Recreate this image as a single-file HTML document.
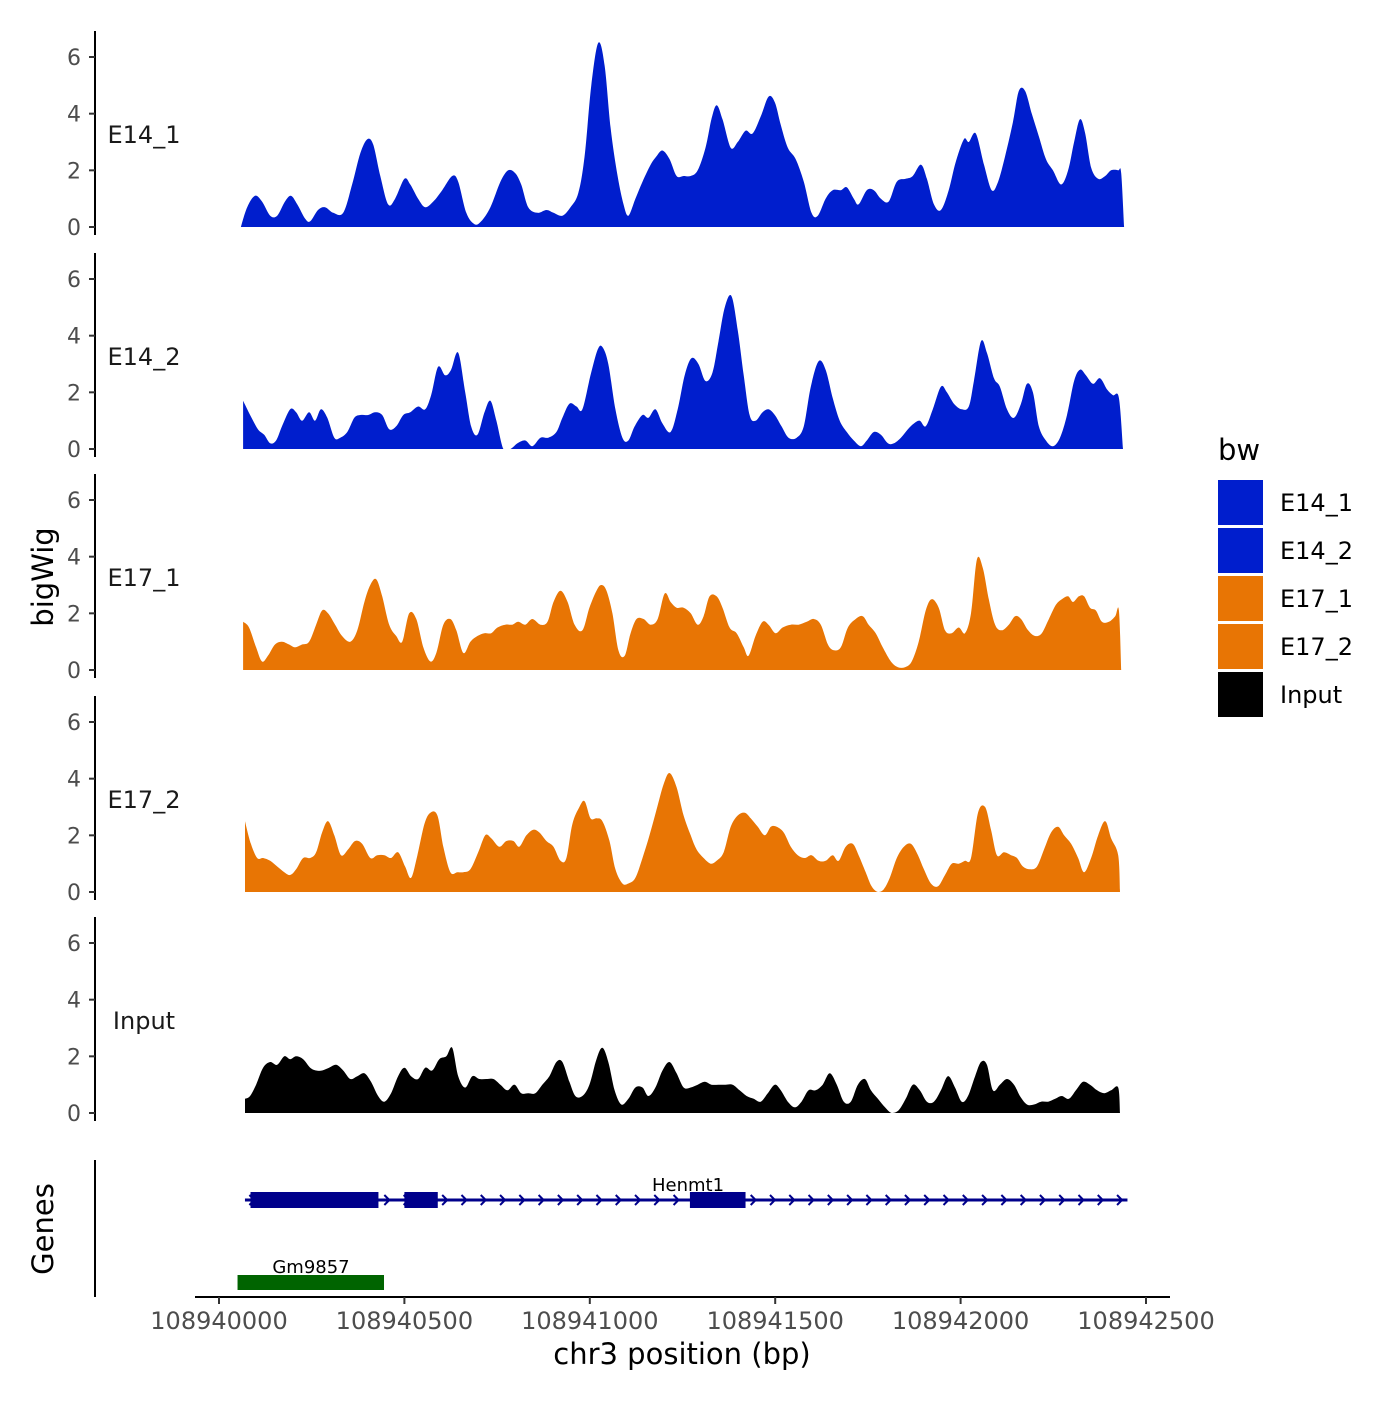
<!DOCTYPE html>
<html><head><meta charset="utf-8"><style>
body{margin:0;background:#fff}
svg text{font-family:"DejaVu Sans","Liberation Sans",sans-serif}
</style></head><body>
<svg id="chart" width="1400" height="1400" viewBox="0 0 1400 1400" xmlns="http://www.w3.org/2000/svg">
<rect width="1400" height="1400" fill="#fff"/>
<g id="tracks"></g>
<g id="genes"></g>
<g id="xaxis"></g>
<text x="53" y="577" font-size="29" text-anchor="middle" transform="rotate(-90 53 577)">bigWig</text>
<text x="53" y="1229" font-size="29" text-anchor="middle" transform="rotate(-90 53 1229)">Genes</text>
<text x="682" y="1364" font-size="29" text-anchor="middle">chr3 position (bp)</text>
<g id="legend"></g>
</svg>
<script>
const START = 108940000;
const xTicks = [108940000,108940500,108941000,108941500,108942000,108942500];
const yTicks = [0,2,4,6];
const trackNames = ["E14_1","E14_2","E17_1","E17_2","Input"];
const trackColors = ["#001ECD","#001ECD","#E87504","#E87504","#000000"];

// positions are bp offsets from 108940000
const e14_1_pos = [59,76,97,116,138,157,178,194,211,232,246,267,286,308,335,359,381,400,416,435,456,475,500,516,537,556,578,602,629,645,667,689,707,732,759,780,799,815,834,859,883,902,926,948,969,986,1004,1023,1040,1056,1075,1091,1104,1123,1142,1164,1180,1196,1215,1234,1253,1272,1291,1312,1328,1342,1358,1380,1399,1420,1439,1461,1482,1499,1515,1534,1555,1577,1598,1615,1636,1655,1677,1693,1712,1725,1747,1766,1785,1806,1828,1852,1871,1893,1909,1928,1947,1968,1987,2009,2022,2041,2063,2084,2101,2120,2141,2157,2174,2192,2211,2230,2249,2271,2290,2306,2322,2336,2352,2371,2390,2406,2425,2433,2441];
const e14_1_val = [0,0.7,1.1,0.9,0.4,0.4,0.9,1.1,0.8,0.3,0.2,0.6,0.7,0.5,0.5,1.5,2.6,3.1,2.9,1.8,0.8,1.0,1.7,1.5,1.0,0.7,0.9,1.3,1.8,1.6,0.5,0.1,0.2,0.7,1.6,2.0,1.9,1.5,0.7,0.5,0.6,0.5,0.4,0.7,1.2,2.5,5.0,6.5,5.7,3.5,1.8,0.8,0.4,1.0,1.6,2.2,2.5,2.7,2.4,1.8,1.8,1.8,2.0,2.8,3.8,4.3,3.8,2.8,3.0,3.4,3.3,3.9,4.6,4.4,3.6,2.8,2.4,1.6,0.5,0.4,1.0,1.3,1.3,1.4,1.0,0.8,1.3,1.3,1.0,0.9,1.6,1.7,1.8,2.2,1.7,0.8,0.6,1.3,2.3,3.1,3.0,3.3,2.2,1.3,1.6,2.5,3.7,4.8,4.8,4.0,3.2,2.4,2.0,1.5,2.0,3.0,3.8,3.3,2.1,1.7,1.8,2.0,2.0,1.9,0];

const e14_2_pos = [65,84,105,122,138,154,170,192,208,224,243,259,275,292,311,327,346,365,381,402,421,440,459,478,497,516,537,556,572,591,610,626,645,664,680,697,716,732,748,767,786,805,826,845,867,888,910,926,945,964,980,1002,1021,1034,1050,1069,1088,1104,1121,1142,1158,1177,1196,1218,1237,1256,1274,1293,1312,1331,1347,1364,1382,1399,1415,1431,1447,1466,1482,1499,1517,1536,1558,1577,1596,1617,1636,1655,1674,1693,1712,1731,1747,1766,1785,1804,1820,1839,1858,1874,1890,1906,1925,1947,1963,1982,2003,2022,2036,2055,2071,2090,2106,2125,2144,2163,2179,2195,2211,2230,2249,2268,2287,2306,2322,2338,2357,2376,2395,2411,2427,2438];
const e14_2_val = [1.7,1.2,0.7,0.5,0.2,0.3,0.8,1.4,1.3,1.0,1.3,1.0,1.4,1.1,0.4,0.4,0.6,1.1,1.2,1.2,1.3,1.2,0.7,0.8,1.2,1.3,1.5,1.4,1.9,2.9,2.6,2.8,3.4,2.0,0.8,0.5,1.3,1.7,1.0,0,0,0.2,0.3,0.1,0.4,0.4,0.6,1.1,1.6,1.5,1.4,2.6,3.5,3.6,3.0,1.4,0.4,0.3,0.8,1.2,1.1,1.4,0.9,0.6,1.4,2.6,3.2,3.0,2.4,2.7,3.8,5.0,5.4,4.2,2.6,1.2,1.0,1.3,1.4,1.2,0.8,0.4,0.4,0.8,2.2,3.1,2.8,1.8,1.0,0.6,0.3,0.1,0.3,0.6,0.5,0.2,0.2,0.4,0.7,0.9,1.0,0.8,1.4,2.2,2.0,1.6,1.4,1.5,2.4,3.8,3.4,2.5,2.2,1.4,1.1,1.6,2.3,2.0,0.8,0.3,0.1,0.4,1.2,2.4,2.8,2.6,2.3,2.5,2.1,1.9,1.8,0];

const e17_1_pos = [65,81,100,116,132,151,170,189,205,224,243,262,278,294,313,332,354,373,392,408,424,440,459,478,494,513,532,551,570,586,605,624,640,659,678,697,716,734,751,772,791,807,826,845,867,886,902,921,940,959,980,999,1018,1031,1045,1061,1077,1094,1110,1126,1145,1164,1183,1202,1218,1234,1253,1272,1291,1307,1323,1342,1358,1377,1396,1415,1428,1447,1466,1482,1501,1520,1542,1563,1585,1604,1623,1642,1658,1677,1696,1717,1736,1752,1771,1790,1812,1831,1850,1868,1887,1906,1922,1941,1958,1976,1995,2012,2028,2044,2060,2076,2093,2111,2130,2147,2163,2182,2201,2219,2238,2257,2273,2290,2303,2319,2333,2349,2365,2381,2400,2417,2427,2433];
const e17_1_val = [1.7,1.5,0.8,0.3,0.5,0.9,1.0,0.9,0.8,0.9,1.0,1.6,2.1,2.0,1.6,1.2,1.0,1.4,2.4,3.0,3.2,2.6,1.6,1.2,1.0,2.0,1.8,0.8,0.3,0.6,1.6,1.8,1.4,0.6,1.0,1.2,1.3,1.3,1.5,1.6,1.6,1.7,1.6,1.8,1.6,1.7,2.4,2.8,2.4,1.6,1.4,2.2,2.8,3.0,2.8,2.0,0.7,0.5,1.3,1.8,1.8,1.6,1.8,2.7,2.4,2.2,2.2,2.0,1.6,1.9,2.6,2.6,2.2,1.5,1.3,0.8,0.5,1.2,1.7,1.6,1.3,1.5,1.6,1.6,1.7,1.8,1.6,0.9,0.7,0.8,1.5,1.8,1.9,1.6,1.3,0.8,0.3,0.1,0.1,0.3,1.0,2.1,2.5,2.2,1.4,1.3,1.5,1.3,2.0,3.9,3.6,2.5,1.6,1.4,1.6,1.9,1.8,1.4,1.2,1.3,1.8,2.3,2.5,2.6,2.4,2.6,2.6,2.2,2.1,1.7,1.7,1.9,2.1,0];

const e17_2_pos = [70,86,103,119,138,157,176,192,208,227,246,262,278,294,311,329,348,367,386,408,427,446,464,483,502,518,535,554,570,589,605,624,643,659,678,699,718,734,756,775,794,810,829,848,864,883,902,921,937,953,972,986,1002,1018,1034,1053,1069,1088,1104,1123,1142,1161,1180,1199,1215,1234,1253,1272,1288,1307,1326,1342,1361,1380,1399,1418,1434,1453,1472,1488,1504,1523,1542,1561,1580,1598,1617,1636,1655,1671,1690,1709,1725,1744,1760,1777,1793,1809,1828,1847,1866,1885,1901,1920,1939,1958,1976,1995,2012,2028,2047,2066,2082,2098,2117,2136,2152,2168,2187,2206,2225,2244,2263,2279,2298,2317,2333,2352,2371,2390,2406,2425,2430];
const e17_2_val = [2.5,1.7,1.2,1.2,1.1,0.9,0.7,0.6,0.8,1.2,1.2,1.4,2.1,2.5,2.0,1.3,1.5,1.8,1.7,1.2,1.3,1.3,1.2,1.4,0.9,0.5,1.3,2.4,2.8,2.7,1.6,0.7,0.7,0.7,0.8,1.4,2.0,1.9,1.6,1.8,1.8,1.6,2.0,2.2,2.1,1.8,1.6,1.1,1.2,2.4,3.0,3.2,2.6,2.6,2.5,1.8,0.8,0.3,0.3,0.5,1.2,2.0,2.9,3.8,4.2,3.7,2.7,2.0,1.5,1.2,1.0,1.1,1.4,2.3,2.7,2.8,2.6,2.3,2.0,2.3,2.3,2.1,1.6,1.3,1.2,1.3,1.1,1.1,1.3,1.1,1.6,1.7,1.3,0.7,0.2,0,0.1,0.5,1.2,1.6,1.7,1.3,0.8,0.3,0.2,0.6,1.0,1.0,1.1,1.2,2.8,3.0,2.2,1.3,1.4,1.3,1.2,0.9,0.8,0.9,1.5,2.1,2.3,2.0,1.7,1.2,0.7,1.2,2.0,2.5,1.9,1.3,0];

const input_pos = [70,84,100,119,138,157,176,192,208,227,246,262,278,297,316,335,354,373,392,410,429,446,464,483,500,518,537,556,575,594,613,629,645,664,683,702,721,740,759,778,797,815,834,853,872,891,910,926,945,961,980,999,1018,1034,1050,1067,1085,1104,1123,1142,1158,1177,1196,1215,1234,1253,1272,1291,1310,1328,1347,1366,1385,1404,1423,1442,1461,1480,1499,1515,1534,1553,1571,1590,1609,1628,1647,1666,1685,1704,1723,1742,1758,1777,1796,1814,1833,1852,1871,1890,1909,1928,1947,1966,1985,2003,2020,2039,2055,2071,2087,2106,2125,2144,2160,2179,2198,2217,2236,2255,2273,2292,2311,2330,2349,2368,2387,2406,2425,2430];
const input_val = [0.5,0.6,1.0,1.6,1.8,1.7,2.0,1.9,2.0,1.9,1.6,1.5,1.5,1.6,1.7,1.5,1.2,1.3,1.4,1.1,0.6,0.4,0.7,1.3,1.6,1.3,1.2,1.6,1.5,1.9,2.0,2.3,1.3,0.9,1.3,1.2,1.2,1.2,1.0,0.8,1.0,0.7,0.7,0.7,1.0,1.3,1.8,1.8,1.1,0.6,0.6,1.0,1.9,2.3,1.8,0.8,0.3,0.5,0.9,0.9,0.6,0.9,1.5,1.8,1.4,0.9,0.9,1.0,1.1,1.0,1.0,1.0,1.0,0.8,0.6,0.5,0.4,0.7,1.0,0.8,0.4,0.2,0.4,0.8,0.8,1.0,1.4,1.0,0.4,0.4,1.0,1.2,0.8,0.5,0.2,0,0.1,0.5,1.0,0.8,0.4,0.4,0.8,1.3,0.9,0.4,0.6,1.3,1.8,1.7,0.8,1.0,1.2,1.0,0.6,0.3,0.3,0.4,0.4,0.5,0.6,0.5,0.8,1.1,1.0,0.8,0.7,0.8,0.9,0];

const trackPos = [e14_1_pos,e14_2_pos,e17_1_pos,e17_2_pos,input_pos];
const trackVal = [e14_1_val,e14_2_val,e17_1_val,e17_2_val,input_val];

const geneNames = ["Henmt1","Gm9857"];
const henmt1Span = [70, 2450];
const henmt1Exons = [[85,430],[500,590],[1270,1420]];
const gm9857Span = [50, 445];

const NS="http://www.w3.org/2000/svg";
const X0=219, PXPERBP=927/2500;
function xs(bp){return X0+bp*PXPERBP;}
const panelBase=[227,449,670,892,1113];
const UNIT=170/6;
function mk(tag,attrs,parent){const e=document.createElementNS(NS,tag);for(const k in attrs)e.setAttribute(k,attrs[k]);parent.appendChild(e);return e;}

const tracks=document.getElementById('tracks');
trackNames.forEach((name,i)=>{
  const base=panelBase[i];
  const ys=v=>base-v*UNIT;
  const g=mk('g',{},tracks);
  
  
  const pos=trackPos[i], val=trackVal[i];
  const P=pos.map((p,k)=>[xs(p),ys(val[k])]);
  let d='M'+P[0][0].toFixed(1)+','+base+' L'+P[0][0].toFixed(1)+','+P[0][1].toFixed(1);
  for(let k=0;k<P.length-1;k++){
    const p0=P[Math.max(k-1,0)],p1=P[k],p2=P[k+1],p3=P[Math.min(k+2,P.length-1)];
    const c1x=p1[0]+(p2[0]-p0[0])/6, c1y=Math.min(base,p1[1]+(p2[1]-p0[1])/6);
    const c2x=p2[0]-(p3[0]-p1[0])/6, c2y=Math.min(base,p2[1]-(p3[1]-p1[1])/6);
    d+=` C${c1x.toFixed(1)},${c1y.toFixed(1)} ${c2x.toFixed(1)},${c2y.toFixed(1)} ${p2[0].toFixed(1)},${p2[1].toFixed(1)}`;
  }
  d+=' L'+P[P.length-1][0].toFixed(1)+','+base+' Z';
  const p=mk('path',{d:d,fill:trackColors[i],stroke:'none'},g);
  
  
  const ax=mk('line',{x1:95,x2:95,y1:base-196,y2:base+8,stroke:'#000','stroke-width':2},g);
  
  
  yTicks.forEach(t=>{
    const y=ys(t);
    const tk=mk('line',{x1:89,x2:95,y1:y,y2:y,stroke:'#333','stroke-width':2},g);
    
    
    const tl=mk('text',{x:81,y:y+8,'font-size':22,fill:'#4d4d4d','text-anchor':'end'},g);
    tl.textContent=t;
    
    
  });
  const lab=mk('text',{x:144,y:base-84,'font-size':24,fill:'#1a1a1a','text-anchor':'middle'},g);
  lab.textContent=name;
  
  
});

// genes
const gg=document.getElementById('genes');
const gax=mk('line',{x1:95,x2:95,y1:1160,y2:1297,stroke:'#000','stroke-width':2},gg);


const gl=mk('line',{x1:xs(henmt1Span[0]),x2:xs(henmt1Span[1]),y1:1200,y2:1200,stroke:'#00008B','stroke-width':3},gg);


for(let bp=henmt1Span[0]+20;bp<henmt1Span[1];bp+=52){
  const x=xs(bp);
  const a=mk('path',{d:`M${x-3},1195 L${x+2},1200 L${x-3},1205`,fill:'none',stroke:'#00008B','stroke-width':2},gg);
  
  
}
henmt1Exons.forEach(e=>{
  const r=mk('rect',{x:xs(e[0]),y:1192,width:xs(e[1])-xs(e[0]),height:16,fill:'#00008B'},gg);
  
  
});
const t1=mk('text',{x:688,y:1191,'font-size':18,'text-anchor':'middle',fill:'#000'},gg);
t1.textContent=geneNames[0];


const gm=mk('rect',{x:xs(gm9857Span[0]),y:1275,width:xs(gm9857Span[1])-xs(gm9857Span[0]),height:15,fill:'#006400'},gg);


const t2=mk('text',{x:311,y:1273,'font-size':18,'text-anchor':'middle',fill:'#000'},gg);
t2.textContent=geneNames[1];



// x axis
const xa=document.getElementById('xaxis');
mk('line',{x1:195,x2:1170,y1:1297,y2:1297,stroke:'#000','stroke-width':2},xa);
xTicks.forEach(t=>{
  const x=xs(t-START);
  const tk=mk('line',{x1:x,x2:x,y1:1297,y2:1304,stroke:'#333','stroke-width':2},xa);
  
  
  const tl=mk('text',{x:x,y:1329,'font-size':24,fill:'#4d4d4d','text-anchor':'middle'},xa);
  tl.textContent=t;
  
  
});

// legend
const lg=document.getElementById('legend');
const lt=mk('text',{x:1218,y:460,'font-size':29,fill:'#000'},lg);
lt.textContent='bw';


trackNames.forEach((n,i)=>{
  const y=480+i*48;
  const r=mk('rect',{x:1218,y:y,width:45,height:45,fill:trackColors[i]},lg);
  
  
  const t=mk('text',{x:1280,y:y+31,'font-size':24,fill:'#000'},lg);
  t.textContent=n;
  
  
});
</script>
</body></html>
